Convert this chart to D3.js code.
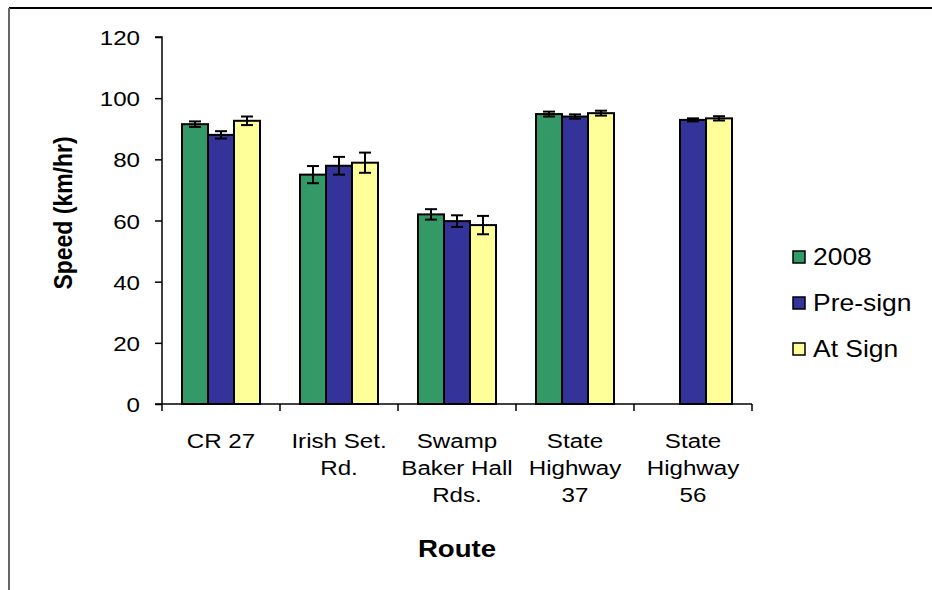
<!DOCTYPE html>
<html><head><meta charset="utf-8">
<script src="https://cdn.jsdelivr.net/npm/d3@7"></script>
<style>body{margin:0;background:#fff}svg{display:block}text{font-family:Arial,"Liberation Sans",sans-serif}</style>
</head><body><svg id="c" width="932" height="590"></svg>
<script>
const categories = [["CR 27"],["Irish Set.","Rd."],["Swamp","Baker Hall","Rds."],["State","Highway","37"],["State","Highway","56"]];
const seriesNames = ["2008","Pre-sign","At Sign"];
const colors = ["#339966","#333399","#FFFF99"];
const values2008 = [91.5, 75.0, 62.0, 94.8, null];
const valuesPre = [88.0, 77.9, 59.8, 94.0, 92.9];
const valuesAt = [92.6, 78.9, 58.5, 95.1, 93.4];
const err2008 = [0.9, 2.8, 1.7, 0.8, null];
const errPre = [1.2, 2.9, 1.9, 0.7, 0.5];
const errAt = [1.4, 3.3, 3.0, 0.8, 0.7];
const yTicks = [0,20,40,60,80,100,120];

const SX = 1.15; // horizontal stretch of the text in the reference
const svg = d3.select("#c");
function stext(x, y, size, anchor, weight){
  return svg.append("text").attr("transform",`translate(${x},${y}) scale(${SX},1)`)
    .attr("text-anchor",anchor).attr("font-size",size).attr("font-weight",weight||"normal").attr("fill","#000");
}
// frame
svg.append("line").attr("x1",9).attr("x2",932).attr("y1",8).attr("y2",8).attr("stroke","#000").attr("stroke-width",2);
svg.append("line").attr("x1",9).attr("x2",9).attr("y1",8).attr("y2",590).attr("stroke","#666").attr("stroke-width",2);

const x0 = d3.scaleBand().domain(d3.range(categories.length)).range([162,752]);
const y = d3.scaleLinear().domain([0,120]).range([404,37]);
const groupW = 78;
const x1 = d3.scaleBand().domain(d3.range(3)).range([0,groupW]);

const series = [values2008, valuesPre, valuesAt];
const errs = [err2008, errPre, errAt];

const g = svg.append("g");
categories.forEach((c,i)=>{
  const gx = x0(i) + (x0.bandwidth()-groupW)/2;
  series.forEach((s,j)=>{
    const v = s[i];
    if (v==null) return;
    g.append("rect").attr("x",gx + x1(j)).attr("y",y(v)).attr("width",x1.bandwidth()).attr("height",y(0)-y(v))
      .attr("fill",colors[j]).attr("stroke","#000").attr("stroke-width",2);
  });
});
categories.forEach((c,i)=>{
  const gx = x0(i) + (x0.bandwidth()-groupW)/2;
  series.forEach((s,j)=>{
    const v = s[i], e = errs[j][i];
    if (v==null) return;
    const cx = gx + x1(j) + x1.bandwidth()/2;
    g.append("line").attr("x1",cx).attr("x2",cx).attr("y1",y(v+e)).attr("y2",y(v-e)).attr("stroke","#000").attr("stroke-width",2);
    [v+e,v-e].forEach(t=>g.append("line").attr("x1",cx-6).attr("x2",cx+6).attr("y1",y(t)).attr("y2",y(t)).attr("stroke","#000").attr("stroke-width",2));
  });
});

// y axis
const ya = svg.append("g").attr("transform","translate(162,0)").call(d3.axisLeft(y).tickValues(yTicks).tickSize(7).tickPadding(0));
ya.select(".domain").attr("stroke","#000").attr("stroke-width",1.5).attr("d","M-7,37H0V404");
ya.selectAll(".tick line").attr("stroke","#000").attr("stroke-width",1.5);
ya.selectAll(".tick text").attr("font-size",21).attr("fill","#000").attr("x",0).attr("dy","0.36em")
  .attr("transform",`translate(-22,0) scale(${SX},1)`).attr("font-family","Arial, 'Liberation Sans', sans-serif");

// x axis
svg.append("line").attr("x1",155).attr("x2",752).attr("y1",404).attr("y2",404).attr("stroke","#000").attr("stroke-width",1.5);
d3.range(categories.length+1).forEach(i=>{
  const tx = i<categories.length ? x0(i) : x0.range()[1];
  svg.append("line").attr("x1",tx).attr("x2",tx).attr("y1",404).attr("y2",411).attr("stroke","#000").attr("stroke-width",1.5);
});
categories.forEach((c,i)=>{
  const t = stext(x0(i)+x0.bandwidth()/2, 448, 21, "middle");
  c.forEach((line,k)=>t.append("tspan").attr("x",0).attr("dy",k===0?0:27).text(line));
});

// axis titles
svg.append("text").attr("transform",`translate(72,213) rotate(-90) scale(1,${SX})`).attr("text-anchor","middle").attr("font-size",23).attr("font-weight","bold").text("Speed (km/hr)");
stext(457, 557, 24, "middle", "bold").text("Route");

// legend
seriesNames.forEach((n,j)=>{
  const ly = 257 + j*46;
  svg.append("rect").attr("x",793).attr("y",ly-6).attr("width",12).attr("height",12).attr("fill",colors[j]).attr("stroke","#000").attr("stroke-width",1.5);
  stext(813, ly+8, 23, "start").text(n);
});
</script></body></html>
